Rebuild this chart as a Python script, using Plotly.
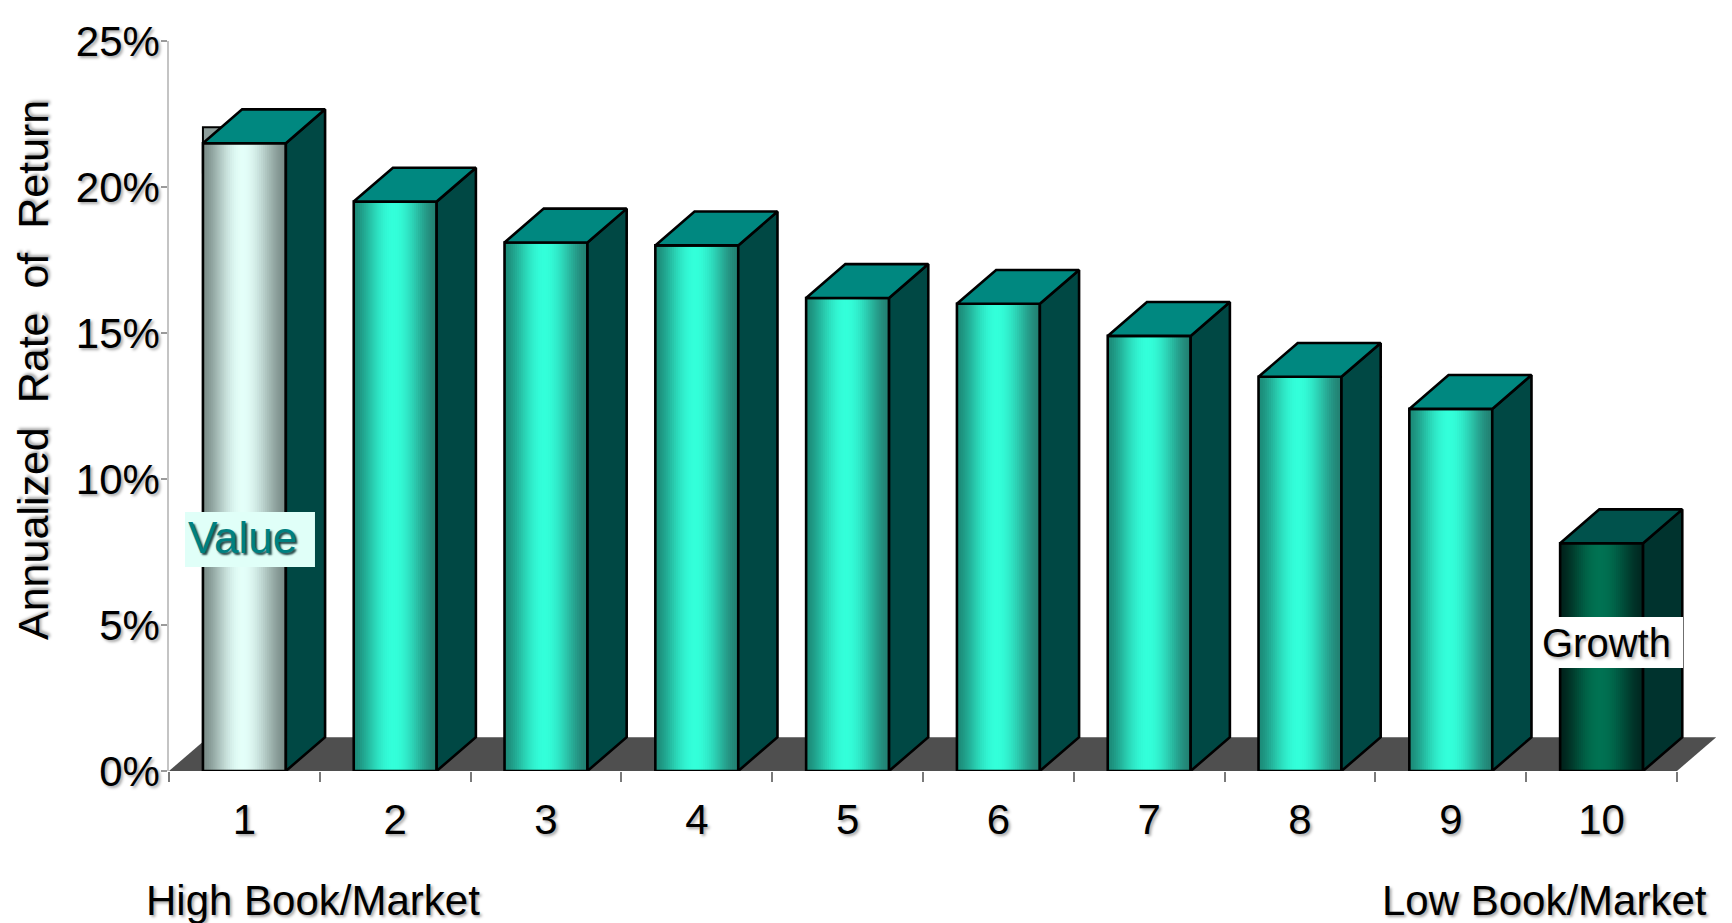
import math
import plotly.graph_objects as go

# ---------------- data ----------------
categories = [1, 2, 3, 4, 5, 6, 7, 8, 9, 10]
tick_labels = ["1", "2", "3", "4", "5", "6", "7", "8", "9", "10"]
returns = [21.5, 19.5, 18.1, 18.0, 16.2, 16.0, 14.9, 13.5, 12.4, 7.8]
y_tick_values = [0, 5, 10, 15, 20, 25]
y_tick_labels = ["0%", "5%", "10%", "15%", "20%", "25%"]
y_title_words = ["Annualized", "Rate", "of", "Return"]
left_end_label = "High Book/Market"
right_end_label = "Low Book/Market"
value_label = "Value"
growth_label = "Growth"

# ---------------- styles ----------------
W, H = 1732, 923
L, R, T, B = 169, 1722, 41, 771
BW = 0.55          # bar width (category units)
DX = 0.26          # depth offset x (category units)
DY = 1.16          # depth offset y (percentage points)
N_STRIPS = 40
OUT = 2.6
FONT = "Liberation Sans, Arial, sans-serif"
SHADOW = "2px 2px 3px rgba(0,0,0,0.35)"

palettes = {
    "value":  dict(l=(122, 140, 136), p=(228, 255, 249), r=(122, 140, 136), side="#004844", top="#008880"),
    "mid":    dict(l=(28, 138, 120), p=(51, 255, 218), r=(34, 128, 114), side="#004844", top="#008880"),
    "growth": dict(l=(0, 34, 27), p=(0, 114, 82), r=(0, 40, 33), side="#00332e", top="#00524c"),
}
bar_style = ["value"] + ["mid"] * 8 + ["growth"]


def grad(pal, t):
    peak = 0.48
    p = math.log(0.5) / math.log(peak)
    g = math.sin(math.pi * (t ** p)) ** 1.6
    edge = pal["l"] if t < peak else pal["r"]
    c = [int(round(e + (q - e) * g)) for e, q in zip(edge, pal["p"])]
    return "rgb(%d,%d,%d)" % tuple(c)


fig = go.Figure()

# front faces: gradient strips
for k in range(N_STRIPS):
    t = (k + 0.5) / N_STRIPS
    start = -BW / 2 + k * BW / N_STRIPS
    fig.add_trace(go.Bar(
        x=categories, y=returns,
        width=BW / 2 - start, offset=start,
        marker=dict(color=[grad(palettes[s], t) for s in bar_style], line=dict(width=0)),
        hoverinfo="skip", showlegend=False,
    ))

# front face outline
fig.add_trace(go.Bar(
    x=categories, y=returns, width=BW, offset=-BW / 2,
    marker=dict(color="rgba(0,0,0,0)", line=dict(color="black", width=OUT)),
    hoverinfo="skip", showlegend=False,
))


def faces(idx, kind):
    xs, ys = [], []
    for i in idx:
        c, v = categories[i], returns[i]
        if kind == "side":
            px = [c + BW / 2, c + BW / 2 + DX, c + BW / 2 + DX, c + BW / 2, c + BW / 2]
            py = [0, DY, v + DY, v, 0]
        else:
            px = [c - BW / 2, c + BW / 2, c + BW / 2 + DX, c - BW / 2 + DX, c - BW / 2]
            py = [v, v, v + DY, v + DY, v]
        xs += px + [None]
        ys += py + [None]
    return xs, ys


groups = [(list(range(0, 9)), palettes["mid"]), ([9], palettes["growth"])]
for idx, pal in groups:
    for kind in ("side", "top"):
        xs, ys = faces(idx, kind)
        fig.add_trace(go.Scatter(
            x=xs, y=ys, mode="lines", fill="toself",
            fillcolor=pal[kind], line=dict(color="black", width=OUT),
            hoverinfo="skip", showlegend=False,
        ))

shapes = [
    # floor
    dict(type="path", xref="x", yref="y", layer="below",
         path="M %f,0 L %f,0 L %f,%f L %f,%f Z" % (0.5, 10.5, 10.5 + DX, DY, 0.5 + DX, DY),
         fillcolor="#4f4f4f", line=dict(width=0)),
    # small grey back edge behind bar 1 top
    dict(type="rect", xref="x", yref="y", layer="below",
         x0=categories[0] - BW / 2, x1=categories[0] + BW / 2,
         y0=returns[0] - 1, y1=returns[0] + 0.55,
         fillcolor="#8e9e9b", line=dict(color="black", width=2)),
    # label boxes
    dict(type="rect", xref="x", yref="y", layer="above",
         x0=0.606, x1=1.468, y0=6.99, y1=8.87, fillcolor="#e0fff8", line=dict(width=0)),
    dict(type="rect", xref="x", yref="y", layer="above",
         x0=9.704, x1=10.54, y0=3.53, y1=5.27, fillcolor="white", line=dict(width=0)),
]


def px2paper(px, py):
    return (px - L) / (R - L), (B - py) / (B - T)


annotations = [
    dict(xref="x", yref="y", x=0.99, y=7.98, text=value_label, showarrow=False,
         font=dict(family=FONT, size=44, color="#008080", shadow="2px 2px 2px rgba(0,40,40,0.85)")),
    dict(xref="x", yref="y", x=10.03, y=4.38, text=growth_label, showarrow=False,
         font=dict(family=FONT, size=40, color="black", shadow=SHADOW)),
]
hx, hy = px2paper(144, 900)
lx, _ = px2paper(1709, 900)
tx, ty = px2paper(33, 370)
annotations += [
    dict(xref="paper", yref="paper", x=hx, y=hy, xanchor="left", yanchor="middle",
         text=left_end_label, showarrow=False, font=dict(family=FONT, size=42, color="black", shadow=SHADOW)),
    dict(xref="paper", yref="paper", x=lx, y=hy, xanchor="right", yanchor="middle",
         text=right_end_label, showarrow=False, font=dict(family=FONT, size=42, color="black", shadow=SHADOW)),
    dict(xref="paper", yref="paper", x=tx, y=ty, xanchor="center", yanchor="middle", textangle=-90,
         text="\u00a0\u00a0".join(y_title_words), showarrow=False,
         font=dict(family=FONT, size=43, color="black", shadow=SHADOW)),
]

fig.update_layout(
    width=W, height=H, barmode="overlay",
    margin=dict(l=L, r=W - R, t=T, b=H - B, pad=0),
    paper_bgcolor="white", plot_bgcolor="white",
    shapes=shapes, annotations=annotations, showlegend=False,
    xaxis=dict(range=[0.5, 10.5 + (R - 1677) / 150.8], tickvals=categories, ticktext=tick_labels,
               ticks="", showgrid=False, zeroline=False, showline=False,
               ticklabelstandoff=20,
               tickfont=dict(family=FONT, size=42, color="black", shadow=SHADOW),
               minor=dict(tickmode="linear", tick0=0.5, dtick=1, ticks="outside", ticklen=10,
                          tickwidth=1.5, tickcolor="#7a7a7a", showgrid=False)),
    yaxis=dict(range=[0, 25], tickvals=y_tick_values, ticktext=y_tick_labels,
               ticks="outside", ticklen=6, tickwidth=1.5, tickcolor="#9a9a9a",
               ticklabelstandoff=-7,
               showline=True, linecolor="#c4c4c4", linewidth=1.5,
               showgrid=False, zeroline=False,
               tickfont=dict(family=FONT, size=42, color="black", shadow=SHADOW)),
)

fig.write_html("out.html", config={"displayModeBar": False},
               post_script="document.body.style.margin='0';document.body.style.overflow='hidden';")
